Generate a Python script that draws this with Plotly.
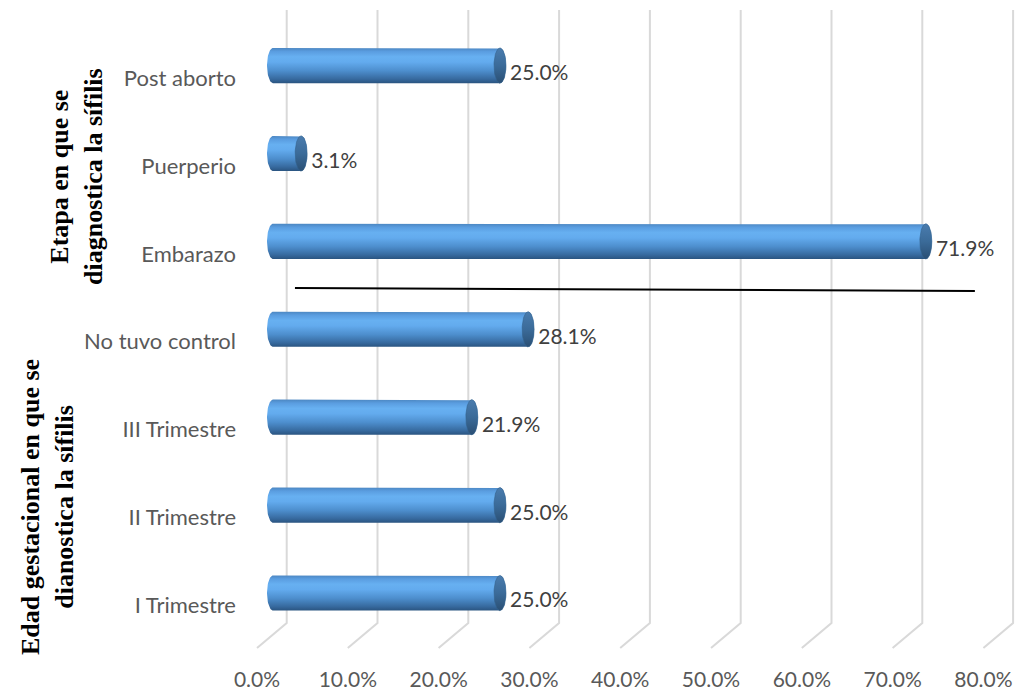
import numpy as np
import plotly.graph_objects as go

# Categories from bottom to top and their percentages
categories = ["I Trimestre", "II Trimestre", "III Trimestre", "No tuvo control",
              "Embarazo", "Puerperio", "Post aborto"]
values = [25.0, 25.0, 21.9, 28.1, 71.9, 3.1, 25.0]
x_ticks = [0, 10, 20, 30, 40, 50, 60, 70, 80]
x_tick_labels = ["0.0%", "10.0%", "20.0%", "30.0%", "40.0%", "50.0%", "60.0%", "70.0%", "80.0%"]
group_titles = ["Etapa en que se<br>diagnostica la sífilis",
                "Edad gestacional en que se<br>dianostica la sífilis"]

# Geometry of the pseudo-3D cylinders (data units)
HALF_H = 0.20        # half thickness of a cylinder
RX = 0.66            # horizontal radius of the elliptical end caps
BACK = 1.51          # shift of the back wall grid
FRONT = -1.76        # shift of the floor front edge
GRID_TOP, GRID_BEND, GRID_FOOT = 6.633, -0.341, -0.626
LABEL_DROP = 0.142   # category labels sit slightly below the bar axis

body_scale = [[0.0, "#2a5480"], [0.12, "#376a9f"], [0.35, "#4d8ecd"],
              [0.6, "#63abee"], [0.75, "#67b0f1"], [0.9, "#5a9de0"], [1.0, "#4c87c2"]]
cap_scale = [[0.0, "#2a4f74"], [0.5, "#3b6b99"], [1.0, "#4a7cae"]]

fig = go.Figure()

# Back-wall gridlines with the slanted floor segment
gx, gy = [], []
for t in x_ticks:
    gx += [t + BACK, t + BACK, t + FRONT, None]
    gy += [GRID_TOP, GRID_BEND, GRID_FOOT, None]
fig.add_trace(go.Scatter(x=gx, y=gy, mode="lines", hoverinfo="skip",
                         line=dict(color="#d9d9d9", width=2), showlegend=False))

theta_r = np.linspace(-np.pi / 2, np.pi / 2, 40)
theta_l = np.linspace(np.pi / 2, 3 * np.pi / 2, 40)
theta_full = np.linspace(0, 2 * np.pi, 80)

for i, v in enumerate(values):
    # cylinder body: left rounded end, straight sides, right rounded end
    bx = np.concatenate([[0, v], v + RX * np.cos(theta_r[::-1]), [0], RX * np.cos(theta_l)])
    by = np.concatenate([[i + HALF_H, i + HALF_H], i + HALF_H * np.sin(theta_r[::-1]),
                         [i - HALF_H], i + HALF_H * np.sin(theta_l)])
    fig.add_trace(go.Scatter(x=bx, y=by, mode="lines", fill="toself",
                             line=dict(width=0, color="#3b6b99"),
                             fillgradient=dict(type="vertical", colorscale=body_scale),
                             hoverinfo="skip", showlegend=False))
    # end cap
    cx = v + RX * np.cos(theta_full)
    cy = i + HALF_H * np.sin(theta_full)
    fig.add_trace(go.Scatter(x=cx, y=cy, mode="lines", fill="toself",
                             line=dict(width=0.6, color="#34618c"),
                             fillgradient=dict(type="vertical", colorscale=cap_scale),
                             hoverinfo="skip", showlegend=False))

# Value labels
fig.add_trace(go.Scatter(
    x=[v + RX + 0.45 for v in values],
    y=[i - 0.105 for i in range(len(values))],
    mode="text", text=[f"{v:.1f}%" for v in values],
    textposition="middle right",
    textfont=dict(family="Lato", size=21, color="#404040"),
    hoverinfo="skip", showlegend=False))

# Separator between the two groups
fig.add_shape(type="line", xref="x", yref="y", x0=2.42, y0=3.47, x1=77.3, y1=3.436,
              line=dict(color="black", width=2))

W, H = 1020, 690
ML, MR, MT, MB = 240, 0, 0, 25


def px_to_paper_x(px):
    return (px - ML) / (W - ML - MR)


def px_to_paper_y(py):
    return 1 - (py - MT) / (H - MT - MB)


for title, cx, cy in [(group_titles[0], 76, 177), (group_titles[1], 47, 507)]:
    fig.add_annotation(text="<b>" + title.replace("<br>", "</b><br><b>") + "</b>",
                       xref="paper", yref="paper",
                       x=px_to_paper_x(cx), y=px_to_paper_y(cy),
                       xanchor="center", yanchor="middle", textangle=-90,
                       showarrow=False, align="center",
                       font=dict(family="Liberation Serif", size=26, color="black"))

fig.update_layout(
    width=W, height=H,
    margin=dict(l=ML, r=MR, t=MT, b=MB),
    paper_bgcolor="white", plot_bgcolor="white",
    xaxis=dict(range=[-3.634, 82.27], showgrid=False, zeroline=False, showline=False,
               tickvals=[t + FRONT for t in x_ticks], ticktext=x_tick_labels,
               ticks="", tickfont=dict(family="Lato", size=21, color="#595959")),
    yaxis=dict(range=[-0.819, 6.746], showgrid=False, zeroline=False, showline=False,
               tickvals=[i - LABEL_DROP for i in range(len(categories))],
               ticktext=categories, ticks="", ticklabelstandoff=3,
               tickfont=dict(family="Lato", size=22, color="#595959")),
)

fig.write_html("out.html")
